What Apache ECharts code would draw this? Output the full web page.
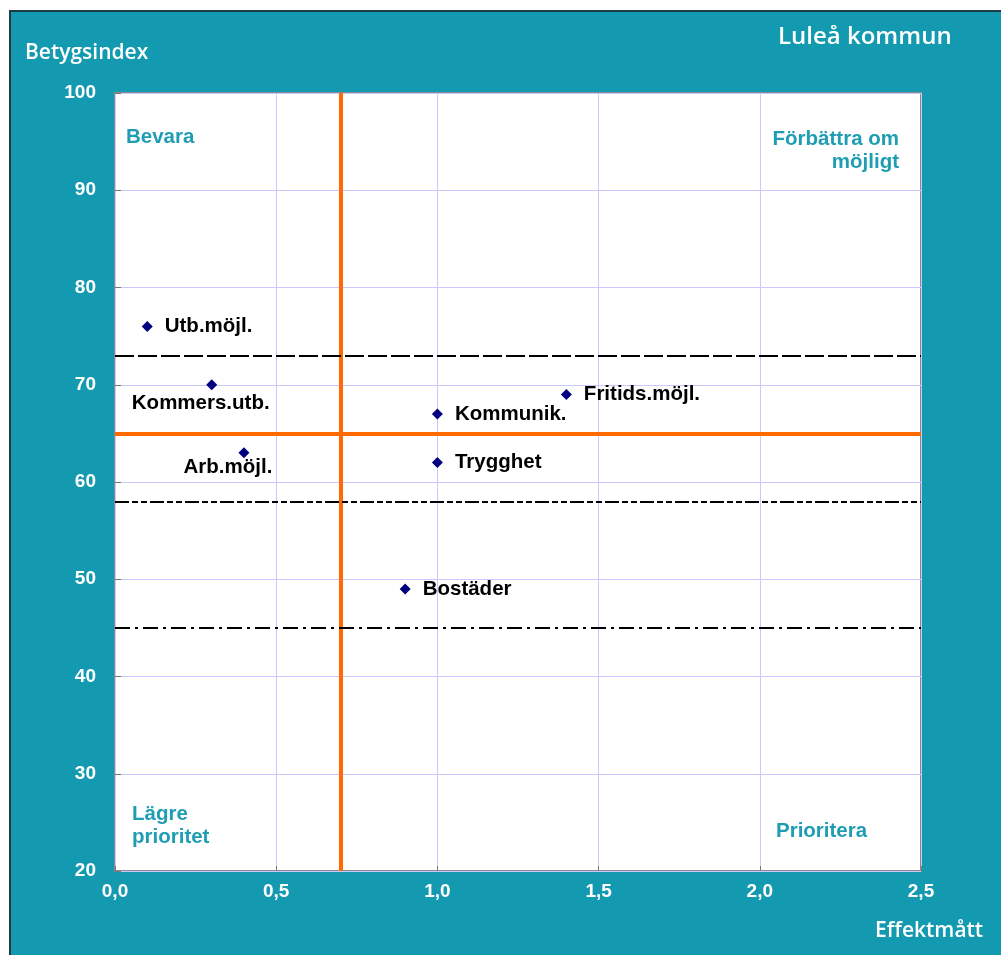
<!DOCTYPE html>
<html>
<head>
<meta charset="utf-8">
<script src="https://cdn.jsdelivr.net/npm/echarts@6/dist/echarts.min.js"></script>
<style>
html,body{margin:0;padding:0;background:#fff;}
#chart{width:1001px;height:955px;}
</style>
</head>
<body>
<div id="chart"></div>
<script>
// ---- data ----
const names = ['Utb.möjl.', 'Kommers.utb.', 'Arb.möjl.', 'Kommunik.', 'Trygghet', 'Fritids.möjl.', 'Bostäder'];
const effekt = [0.1, 0.3, 0.4, 1.0, 1.0, 1.4, 0.9];
const betyg = [76, 70, 63, 67, 62, 69, 49];
const xTicks = ['0,0', '0,5', '1,0', '1,5', '2,0', '2,5'];
const orangeX = 0.7;
const orangeY = 65;
const refLines = [73, 58, 45];
const quadrantLabels = ['Bevara', 'Förbättra om\nmöjligt', 'Lägre\nprioritet', 'Prioritera'];

// ---- styles ----
const labelBelow = { 'Kommers.utb.': [-11, -1], 'Arb.möjl.': [-16, -5] };
const refStyles = [[19, 4], [14, 3, 6, 3, 6, 3], [15, 5, 3, 5]];
const teal = '#1399b0';
const qColor = '#1f9db3';
const FF = '"Liberation Sans", Arial, sans-serif';

const chart = echarts.init(document.getElementById('chart'));

const pts = names.map((n, i) => {
  const item = { name: n, value: [effekt[i], betyg[i]] };
  if (labelBelow[n]) {
    item.label = { position: 'bottom', distance: 4, offset: labelBelow[n] };
  }
  return item;
});

const markLineData = [
  { xAxis: orangeX, lineStyle: { color: '#ff6a00', width: 4, type: 'solid' } },
  { yAxis: orangeY, lineStyle: { color: '#ff6a00', width: 4, type: 'solid' } }
].concat(refLines.map((v, i) => ({ yAxis: v, lineStyle: { color: '#000', width: 2, type: refStyles[i] } })));

const qFont = { fill: qColor, font: 'bold 20.5px ' + FF, lineHeight: 23 };

const option = {
  animation: false,
  backgroundColor: 'transparent',
  graphic: [
    { type: 'rect', z: -100, shape: { x: 10, y: 11, width: 1000, height: 960 },
      style: { fill: teal, stroke: '#1d3c44', lineWidth: 2 } },
    { type: 'text', x: 778, y: 25, style: { text: 'Luleå kommun', fill: '#fff', font: '600 24px "Open Sans", sans-serif' } },
    { type: 'text', x: 25, y: 43, style: { text: 'Betygsindex', fill: '#fff', font: '600 21px "Open Sans", sans-serif' } },
    { type: 'text', x: 875, y: 921, style: { text: 'Effektmått', fill: '#fff', font: '600 21px "Open Sans", sans-serif' } },
    { type: 'text', x: 126, y: 126, style: Object.assign({ text: quadrantLabels[0] }, qFont) },
    { type: 'text', x: 899, y: 128, style: Object.assign({ text: quadrantLabels[1], align: 'right' }, qFont) },
    { type: 'text', x: 132, y: 803, style: Object.assign({ text: quadrantLabels[2] }, qFont) },
    { type: 'text', x: 776, y: 820, style: Object.assign({ text: quadrantLabels[3] }, qFont) }
  ],
  grid: {
    left: 115, top: 93, width: 806, height: 778,
    show: true, backgroundColor: '#fff', borderColor: '#8a8a8a', borderWidth: 2
  },
  xAxis: {
    type: 'value', min: 0, max: 2.5, interval: 0.5,
    axisLine: { show: false },
    axisTick: { show: true, inside: true, length: 5, lineStyle: { color: '#777' } },
    splitLine: { show: true, lineStyle: { color: '#c9c9ff', width: 1 } },
    axisLabel: {
      margin: 11, color: '#fff', fontWeight: 'bold', fontSize: 19, fontFamily: FF,
      formatter: v => xTicks[Math.round(v / 0.5)]
    }
  },
  yAxis: {
    type: 'value', min: 20, max: 100, interval: 10,
    axisLine: { show: false },
    axisTick: { show: true, inside: true, length: 6, lineStyle: { color: '#777' } },
    splitLine: { show: true, lineStyle: { color: '#c9c9ff', width: 1 } },
    axisLabel: { margin: 19, color: '#fff', fontWeight: 'bold', fontSize: 19, fontFamily: FF }
  },
  series: [{
    type: 'scatter',
    symbol: 'diamond',
    symbolSize: 11,
    itemStyle: { color: '#00007f', opacity: 1 },
    data: pts,
    label: {
      show: true, position: 'right', distance: 12,
      formatter: p => p.name,
      color: '#000', fontWeight: 'bold', fontSize: 20.5, fontFamily: FF
    },
    markLine: {
      silent: true, symbol: 'none', animation: false,
      label: { show: false },
      data: markLineData
    },
    z: 5
  }]
};
chart.setOption(option);
</script>
</body>
</html>
